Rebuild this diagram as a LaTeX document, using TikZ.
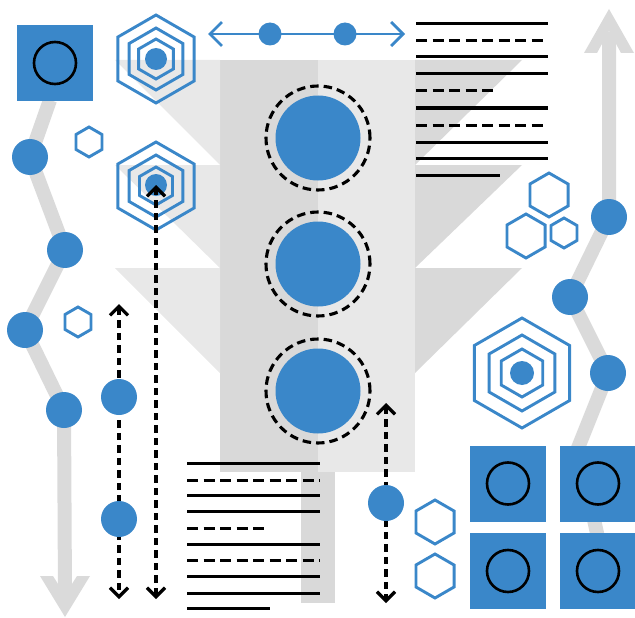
\documentclass[tikz,border=0pt]{standalone}
\usetikzlibrary{arrows.meta}
\definecolor{accent}{RGB}{58,135,201}
\definecolor{graydark}{RGB}{217,217,217}
\definecolor{graylight}{RGB}{232,232,232}
\definecolor{grayroad}{RGB}{218,218,218}
\tikzset{
  road/.style={draw=grayroad, line width=14pt, line join=round},
  roadhead/.style={fill=grayroad},
  txtline/.style={draw=black, line width=3pt},
  txtdash/.style={draw=black, line width=3pt, dash pattern=on 11pt off 5.5pt},
  dot/.style={circle, fill=accent, inner sep=0pt, minimum size=36pt},
  smalldot/.style={circle, fill=accent, inner sep=0pt, minimum size=23pt},
  bigdot/.style={circle, fill=accent, inner sep=0pt, minimum size=85pt},
  dashring/.style={circle, draw=black, line width=3.1pt, dash pattern=on 8.5pt off 5pt, inner sep=0pt, minimum size=104pt},
  bluesq/.style={rectangle, fill=accent, inner sep=0pt, minimum size=76pt},
  blackring/.style={circle, draw=black, line width=2.6pt, inner sep=0pt, minimum size=42pt},
  hexline/.style={draw=accent, line width=2.9pt, line join=miter},
  barb/.tip={Straight Barb[length=9pt,width=18pt]},
  dasharrow/.style={draw=black, line width=3.2pt, dash pattern=on 7.5pt off 5pt, barb-barb},
  bluearrow/.style={draw=accent, line width=2.8pt,
    {Straight Barb[length=12pt,width=24pt]}-{Straight Barb[length=12pt,width=24pt]}},
}
% pointy-topped hexagon outline: centre x, centre y, radius
\newcommand\hexoutline[3]{%
  \draw[hexline] (#1,#2) +(30:#3) -- +(90:#3) -- +(150:#3) -- +(210:#3) -- +(270:#3) -- +(330:#3) -- cycle;}
\begin{document}
\begin{tikzpicture}[x=1pt,y=-1pt]
\useasboundingbox (0,0) rectangle (635,618);

% ---- stepped grey tree in the middle ----
\fill[graydark] (220,60) rectangle (318,472);
\fill[graylight] (318,60) rectangle (415,472);
\fill[graylight] (115,60) -- (220,60) -- (220,165) -- cycle;
\fill[graylight] (115,165) -- (220,165) -- (220,268) -- cycle;
\fill[graylight] (115,268) -- (220,268) -- (220,373) -- cycle;
\fill[graydark] (415,60) -- (522,60) -- (415,165) -- cycle;
\fill[graydark] (415,165) -- (522,165) -- (415,268) -- cycle;
\fill[graydark] (415,268) -- (522,268) -- (415,373) -- cycle;
\fill[graydark] (301,472) rectangle (335,603);

% ---- grey roads with their arrowheads ----
\coordinate (sqA) at (50,100);
\coordinate (l1) at (30,157);
\coordinate (l2) at (65,250);
\coordinate (l3) at (25,330);
\coordinate (l4) at (64,410);
\coordinate (lend) at (65,596);
\draw[road] (sqA) -- (l1) -- (l2) -- (l3) -- (l4) -- (lend);
\fill[roadhead] (65,617) -- (40,576) -- (53,576) -- (65,595) -- (77,576) -- (90,576) -- cycle;

\coordinate (rtop) at (609,32);
\coordinate (r1) at (609,217);
\coordinate (r2) at (570,297);
\coordinate (r3) at (608,373);
\coordinate (r4) at (578,448);
\coordinate (r5) at (603,560);
\draw[road] (rtop) -- (r1) -- (r2) -- (r3) -- (r4) -- (r5);
\fill[roadhead] (609,9) -- (634,53) -- (621,53) -- (609,31) -- (597,53) -- (584,53) -- cycle;

% ---- striped text blocks ----
\draw[txtline] (416,24) -- (548,24);
\draw[txtdash] (416,41) -- (548,41);
\draw[txtline] (416,57) -- (548,57);
\draw[txtline] (416,74) -- (548,74);
\draw[txtdash] (416,91) -- (497,91);
\draw[txtline] (416,108) -- (548,108);
\draw[txtdash] (416,125) -- (548,125);
\draw[txtline] (416,142) -- (548,142);
\draw[txtline] (416,158) -- (548,158);
\draw[txtline] (416,175) -- (500,175);

\draw[txtline] (187,463) -- (320,463);
\draw[txtdash] (187,480) -- (320,480);
\draw[txtline] (187,495) -- (320,495);
\draw[txtline] (187,511) -- (320,511);
\draw[txtdash] (187,528) -- (268,528);
\draw[txtline] (187,544) -- (320,544);
\draw[txtdash] (187,560) -- (320,560);
\draw[txtline] (187,576) -- (320,576);
\draw[txtline] (187,593) -- (320,593);
\draw[txtline] (187,608) -- (270,608);

% ---- hexagons ----
\hexoutline{156}{59}{44}
\hexoutline{156}{59}{31}
\hexoutline{156}{59}{20}
\node[smalldot, minimum size=22pt] (hexdotA) at (156,59) {};
\hexoutline{156}{186}{44}
\hexoutline{156}{186}{31}
\hexoutline{156}{186}{19}
\node[smalldot, minimum size=22pt] (hexdotB) at (156,185) {};
\hexoutline{89}{142}{15}
\hexoutline{78}{322}{15}
\hexoutline{549}{195}{22}
\hexoutline{526}{236}{22}
\hexoutline{564}{233}{15}
\hexoutline{522}{373}{55}
\hexoutline{522}{373}{38}
\hexoutline{522}{373}{24}
\node[smalldot, minimum size=24pt] (hexdotC) at (522,373) {};
\hexoutline{435}{522}{22}
\hexoutline{435}{576}{22}

% ---- blue squares with rings ----
\node[bluesq] (sqtl) at (55,63) {};
\node[blackring] at (sqtl) {};
\node[bluesq] (sq1) at (508,483.5) {};
\node[bluesq] (sq2) at (598,483.5) {};
\node[bluesq] (sq3) at (508,571) {};
\node[bluesq] (sq4) at (598,571) {};
\foreach \s in {sq1,sq2,sq3,sq4} \node[blackring] at (\s) {};

% ---- dots on the grey roads ----
\foreach \p in {l1,l2,l3,l4,r1,r2,r3} \node[dot] at (\p) {};

% ---- central discs with dashed rings ----
\node[bigdot] (c1) at (318,138) {};
\node[bigdot] (c2) at (318,264) {};
\node[bigdot] (c3) at (318,391) {};
\foreach \c in {c1,c2,c3} \node[dashring] at (\c) {};

% ---- top double arrow ----
\coordinate (tl) at (208,34);
\coordinate (tr) at (405,34);
\draw[bluearrow] (tl) -- (tr);
\node[smalldot] (t1) at (270,34) {};
\node[smalldot] (t2) at (345,34) {};

% ---- dashed vertical arrows ----
\coordinate (a1t) at (119,304);
\coordinate (a1b) at (119,599);
\draw[dasharrow] (a1t) -- (a1b);
\node[dot] (a1d1) at (119,397) {};
\node[dot] (a1d2) at (119,519) {};

\coordinate (a2b) at (156,599);
\draw[dasharrow] (a2b) -- (hexdotB.center);

\coordinate (a3t) at (386,403);
\coordinate (a3b) at (386,603);
\draw[dasharrow] (a3t) -- (a3b);
\node[dot] (a3d) at (386,503) {};
\end{tikzpicture}
\end{document}
